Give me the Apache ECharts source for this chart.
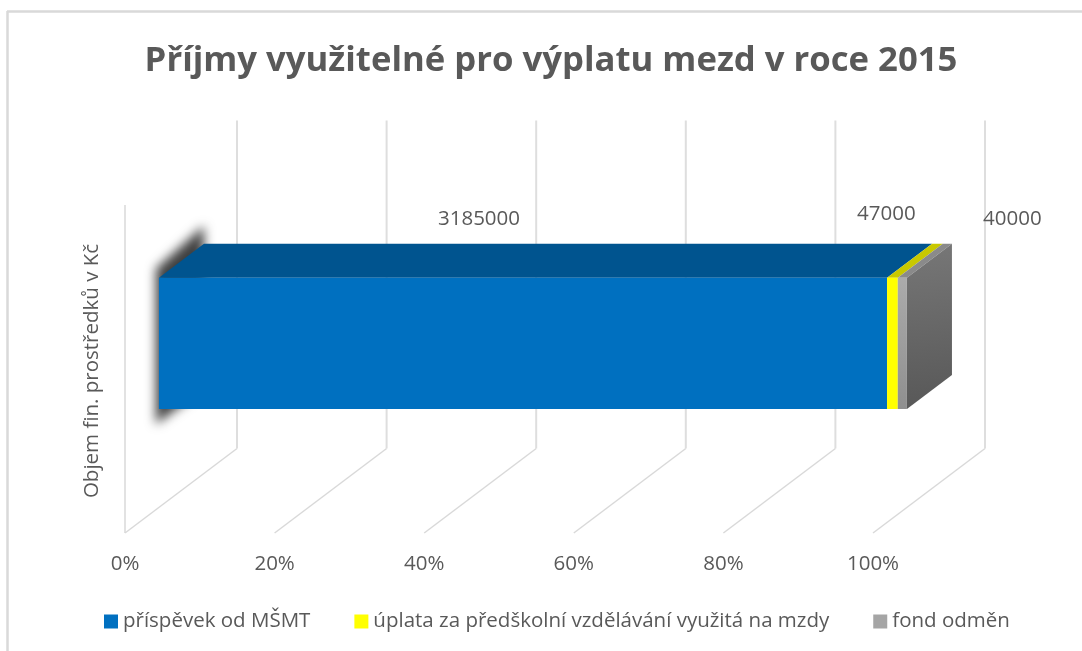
<!DOCTYPE html>
<html>
<head>
<meta charset="utf-8">
<style>
  html, body { margin: 0; padding: 0; background: #fff; }
  #chart { width: 1082px; height: 651px; }
</style>
</head>
<body>
<div id="chart"></div>
<script src="https://cdn.jsdelivr.net/npm/echarts@6/dist/echarts.min.js"></script>
<script>
const categories = ['Objem fin. prostředků v Kč']
const seriesNames = ['příspěvek od MŠMT', 'úplata za předškolní vzdělávání využitá na mzdy', 'fond odměn']
const seriesValues = [3185000, 47000, 40000]
const xTicks = [0, 20, 40, 60, 80, 100]

const total = seriesValues.reduce((a, b) => a + b, 0)
const textColor = '#595959'
const font = '"Open Sans", sans-serif'

// posun hloubky v pixelech (šikmá projekce jako v Excelu)
const DX = 112
const DY = 84.5
const DEPTH_FRONT = 0.303
const DEPTH_BACK = 0.705
const BAND = 0.4
const OFFSCREEN = 3000

const frontColors = [
  '#0070c0',
  '#ffff00',
  { type: 'linear', x: 0, y: 0, x2: 0, y2: 1, colorStops: [{ offset: 0, color: '#ababab' }, { offset: 1, color: '#8f8f8f' }] }
]
const topColors = ['#00548f', '#c8c800', '#8a8a8a']
const legendColors = ['#0070c0', '#ffff00', '#a5a5a5']
const sideColor = { type: 'linear', x: 0, y: 0, x2: 0.3, y2: 1, colorStops: [{ offset: 0, color: '#777777' }, { offset: 1, color: '#585858' }] }
const labelOffsets = [[-44, -59], [-6, -64], [110, -59]]

const project = (pt, depth) => [pt[0] + DX * depth, pt[1] - DY * depth]

const renderWall = (params, api) => {
  const sys = params.coordSys
  const x = api.coord([api.value(0), 0])[0]
  const bottom = sys.y + sys.height
  const floor = { type: 'polyline', shape: { points: [[x, bottom], project([x, bottom], 1)] }, style: { stroke: '#d9d9d9', lineWidth: 1.5, fill: null } }
  const back = project([x, sys.y], 1)
  const backLow = project([x, bottom], 1)
  const children = [floor, { type: 'line', shape: { x1: back[0], y1: back[1], x2: backLow[0], y2: backLow[1] }, style: { stroke: '#dedede', lineWidth: 2 } }]
  if (params.dataIndex === 0) {
    children.push({ type: 'line', shape: { x1: x, y1: sys.y, x2: x, y2: bottom }, style: { stroke: '#d9d9d9', lineWidth: 1.5 } })
  }
  return { type: 'group', children }
}

const renderBar = (params, api) => {
  const idx = params.seriesIndex - 1
  const start = api.coord([api.value(0), 0])
  const end = api.coord([api.value(1), 0])
  const h = api.size([0, 1])[1] * BAND
  const y0 = start[1] - h / 2
  const y1 = start[1] + h / 2
  const fTL = project([start[0], y0], DEPTH_FRONT)
  const fTR = project([end[0], y0], DEPTH_FRONT)
  const fBR = project([end[0], y1], DEPTH_FRONT)
  const fBL = project([start[0], y1], DEPTH_FRONT)
  const bTL = project([start[0], y0], DEPTH_BACK)
  const bTR = project([end[0], y0], DEPTH_BACK)
  const bBR = project([end[0], y1], DEPTH_BACK)
  const children = []
  if (idx === 0) {
    // rozmazaný stín vlevo za sloupcem, kreslí se jen stín (tvar je mimo plátno)
    const pts = [[fTL[0] - 3, fTL[1] - 9], [bTL[0], bTL[1] - 18], [bTL[0], bBR[1] + 14], [fBL[0] - 3, fBL[1] + 15]]
    children.push({
      type: 'polygon',
      shape: { points: pts.map(p => [p[0] - OFFSCREEN, p[1]]) },
      style: { fill: '#000', shadowBlur: 11, shadowColor: '#404040', shadowOffsetX: OFFSCREEN }
    })
  }
  children.push({ type: 'polygon', shape: { points: [fTL, fTR, bTR, bTL] }, style: { fill: topColors[idx] } })
  if (idx === seriesValues.length - 1) {
    children.push({ type: 'polygon', shape: { points: [fTR, bTR, bBR, fBR] }, style: { fill: sideColor } })
  }
  children.push({ type: 'polygon', shape: { points: [fTL, fTR, fBR, fBL] }, style: { fill: frontColors[idx] } })
  children.push({
    type: 'text',
    style: {
      text: String(seriesValues[idx]),
      x: (fTL[0] + fTR[0]) / 2 + labelOffsets[idx][0],
      y: fTL[1] + labelOffsets[idx][1],
      align: 'center',
      verticalAlign: 'middle',
      fill: textColor,
      font: '20.5px ' + font
    }
  })
  return { type: 'group', children }
}

let cumulative = 0
const barSeries = seriesNames.map((name, i) => {
  const from = cumulative / total * 100
  cumulative += seriesValues[i]
  return {
    name,
    type: 'custom',
    renderItem: renderBar,
    clip: false,
    silent: true,
    itemStyle: { color: legendColors[i] },
    encode: { x: [0, 1], y: 2 },
    data: [[from, cumulative / total * 100, 0]]
  }
})

const chart = echarts.init(document.getElementById('chart'))
chart.setOption({
  animation: false,
  backgroundColor: '#ffffff',
  title: {
    text: 'Příjmy využitelné pro výplatu mezd v roce 2015',
    left: 546,
    top: 39,
    textAlign: 'center',
    textStyle: { color: textColor, fontFamily: font, fontWeight: 'bold', fontSize: 34.7 }
  },
  legend: {
    left: 99,
    top: 606,
    data: seriesNames,
    icon: 'rect',
    itemWidth: 14,
    itemHeight: 14,
    itemGap: 44,
    textStyle: { color: textColor, fontFamily: font, fontSize: 20.5 }
  },
  grid: { left: 125, width: 748, top: 205, height: 328 },
  xAxis: {
    type: 'value',
    min: 0,
    max: 100,
    interval: 20,
    axisLine: { show: false },
    axisTick: { show: false },
    splitLine: { show: false },
    axisLabel: { formatter: '{value}%', color: textColor, fontFamily: font, fontSize: 20.5, margin: 21 }
  },
  yAxis: {
    type: 'category',
    data: categories,
    axisLine: { show: false },
    axisTick: { show: false },
    axisLabel: { rotate: 90, color: textColor, fontFamily: font, fontSize: 20.5, margin: 22, padding: [0, 4, 0, 0] }
  },
  graphic: [
    { type: 'line', shape: { x1: 7, y1: 11.5, x2: 1082, y2: 11.5 }, style: { stroke: '#d9d9d9', lineWidth: 2.5 } },
    { type: 'line', shape: { x1: 7.5, y1: 11, x2: 7.5, y2: 651 }, style: { stroke: '#d9d9d9', lineWidth: 2.5 } }
  ],
  series: [
    {
      name: 'mřížka',
      type: 'custom',
      renderItem: renderWall,
      clip: false,
      silent: true,
      encode: { x: 0 },
      data: xTicks.map(t => [t])
    },
    ...barSeries
  ]
})

window.addEventListener('resize', () => {
  chart.resize()
})
</script>
</body>
</html>
